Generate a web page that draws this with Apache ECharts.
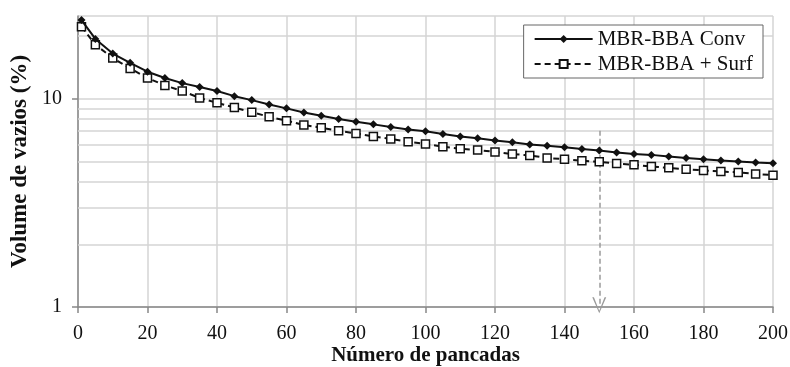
<!DOCTYPE html>
<html>
<head>
<meta charset="utf-8">
<script src="https://cdn.jsdelivr.net/npm/echarts@6/dist/echarts.min.js"></script>
<style>
  html, body { margin: 0; padding: 0; background: #fff; }
  #chart { width: 790px; height: 367px; }
</style>
</head>
<body>
<div id="chart"></div>
<script>
// numero de pancadas
const pancadas = [1, 5, 10, 15, 20, 25, 30, 35, 40, 45, 50, 55, 60, 65, 70, 75, 80, 85, 90, 95, 100,
  105, 110, 115, 120, 125, 130, 135, 140, 145, 150, 155, 160, 165, 170, 175, 180, 185, 190, 195, 200]

// volume de vazios (%)
const conv = [23.9, 19.4, 16.5, 14.9, 13.5, 12.6, 11.9, 11.4, 10.9, 10.3, 9.86, 9.39, 9.0, 8.6, 8.29, 8.0, 7.76, 7.54, 7.32, 7.13, 6.98,
  6.78, 6.6, 6.46, 6.31, 6.18, 6.04, 5.95, 5.85, 5.74, 5.64, 5.53, 5.43, 5.38, 5.28, 5.2, 5.13, 5.05, 5.0, 4.94, 4.9]
const surf = [22.2, 18.2, 15.7, 14.0, 12.6, 11.6, 10.9, 10.1, 9.57, 9.08, 8.63, 8.2, 7.85, 7.49, 7.26, 7.03, 6.82, 6.6, 6.42, 6.22, 6.07,
  5.89, 5.76, 5.68, 5.56, 5.43, 5.35, 5.2, 5.13, 5.04, 4.98, 4.89, 4.82, 4.73, 4.66, 4.59, 4.53, 4.48, 4.43, 4.36, 4.3]

// linhas de grade secundarias do eixo log
const minorGrid = [2, 3, 4, 5, 6, 7, 8, 9, 20]

// seta tracejada em 150 pancadas
const arrowX = 150
const arrowFrom = 7.03
const arrowTo = 1.02

const serif = '"Liberation Serif", "DejaVu Serif", serif'

const chart = echarts.init(document.getElementById('chart'))

chart.setOption({
  animation: false,
  textStyle: { fontFamily: serif },
  grid: { left: 78, right: 17, top: 16, bottom: 60, containLabel: false, outerBoundsMode: 'none' },
  legend: {
    data: ['MBR-BBA Conv', 'MBR-BBA + Surf'],
    orient: 'vertical',
    right: 27,
    top: 25,
    padding: [3, 10, 3, 10],
    itemGap: 3,
    itemWidth: 58,
    itemHeight: 10,
    z: 10,
    backgroundColor: '#fff',
    borderColor: '#666',
    borderWidth: 1,
    borderRadius: 0,
    textStyle: { fontFamily: serif, fontSize: 21, color: '#111', lineHeight: 22 }
  },
  xAxis: {
    type: 'value',
    min: 0,
    max: 200,
    interval: 20,
    name: 'Número de pancadas',
    nameLocation: 'middle',
    nameGap: 38,
    nameMoveOverlap: false,
    nameTextStyle: { fontFamily: serif, fontSize: 21, fontWeight: 'bold', color: '#111' },
    axisLine: { onZero: false, lineStyle: { color: '#888', width: 1.5 } },
    axisTick: { show: true, inside: false, length: 6, lineStyle: { color: '#888', width: 1.5 } },
    axisLabel: { fontFamily: serif, fontSize: 20, color: '#111', margin: 17 },
    splitLine: { show: true, lineStyle: { color: '#d4d4d4', width: 1.5 } }
  },
  yAxis: {
    type: 'log',
    logBase: 10,
    min: 1,
    max: 25,
    name: 'Volume de vazios (%)',
    nameLocation: 'middle',
    nameGap: 44,
    nameTextStyle: { fontFamily: serif, fontSize: 23, fontWeight: 'bold', color: '#111' },
    axisLine: { show: true, lineStyle: { color: '#888', width: 1.5 } },
    axisTick: { show: true, inside: false, length: 6, lineStyle: { color: '#888', width: 1.5 } },
    axisLabel: { fontFamily: serif, fontSize: 20, color: '#111', margin: 16, showMaxLabel: false },
    splitLine: { show: true, lineStyle: { color: '#d4d4d4', width: 1.5 } }
  },
  series: [
    {
      name: 'grade',
      type: 'line',
      data: [],
      z: 1,
      silent: true,
      markLine: {
        silent: true,
        z: 1,
        symbol: 'none',
        label: { show: false },
        lineStyle: { color: '#d4d4d4', width: 1.5, type: 'solid' },
        data: minorGrid.map(v => ({ yAxis: v }))
      }
    },
    {
      name: 'seta',
      type: 'line',
      data: [],
      z: 2,
      silent: true,
      markLine: {
        silent: true,
        z: 2,
        symbol: ['none', 'path://M5,0L10,10L8.8,10L5,1.6L1.2,10L0,10Z'],
        symbolSize: [14, 16],
        label: { show: false },
        lineStyle: { color: '#9a9a9a', width: 1.5, type: [5, 3] },
        itemStyle: { color: '#9a9a9a' },
        data: [[{ coord: [arrowX, arrowFrom] }, { coord: [arrowX, arrowTo] }]]
      }
    },
    {
      name: 'MBR-BBA + Surf',
      type: 'line',
      z: 3,
      data: pancadas.map((x, i) => [x, surf[i]]),
      symbol: 'rect',
      symbolSize: 8,
      itemStyle: { color: '#fff', borderColor: '#111', borderWidth: 1.5 },
      lineStyle: { color: '#111', width: 2, type: [6, 4] }
    },
    {
      name: 'MBR-BBA Conv',
      type: 'line',
      z: 4,
      data: pancadas.map((x, i) => [x, conv[i]]),
      symbol: 'diamond',
      symbolSize: 8,
      itemStyle: { color: '#111' },
      lineStyle: { color: '#111', width: 2, type: 'solid' }
    }
  ]
})
</script>
</body>
</html>
